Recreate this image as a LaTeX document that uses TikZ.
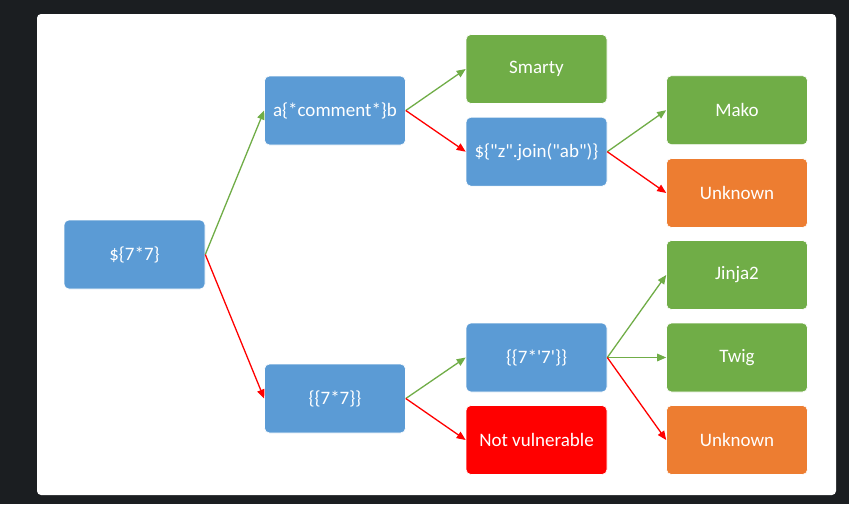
\documentclass[tikz,border=0pt]{standalone}
\usepackage{fontspec}
\setmainfont{Carlito}[Ligatures=TeXOff]
\usetikzlibrary{arrows.meta}
\definecolor{pagebg}{RGB}{27,30,33}
\definecolor{boxblue}{RGB}{91,155,213}
\definecolor{boxgreen}{RGB}{112,173,71}
\definecolor{boxorange}{RGB}{237,125,49}
\definecolor{boxred}{RGB}{255,0,0}
\begin{document}
\begin{tikzpicture}[x=1pt,y=-1pt,
  box/.style={rounded corners=5pt, minimum width=141pt, minimum height=69pt,
    draw=white, line width=0.6pt, text=white, inner sep=0pt,
    font=\fontsize{19}{23}\selectfont},
  test/.style={box, fill=boxblue},
  hit/.style={box, fill=boxgreen},
  unsure/.style={box, fill=boxorange},
  miss/.style={box, fill=boxred},
  yes/.style={draw=boxgreen, line width=1.3pt, -{Triangle[length=9pt,width=7.5pt]}},
  no/.style={draw=boxred, line width=1.3pt, -{Triangle[length=9pt,width=7.5pt]}}
]
\useasboundingbox (0,0) rectangle (849,504);
\fill[pagebg] (0,0) rectangle (849,504);
\fill[white, rounded corners=4pt] (37,14) rectangle (836,495);

% payload tests
\node[test] (root) at (134.5,254.5) {\$\{7*7\}};
\node[test] (cmt)  at (335,110.5) {a\{*comment*\}b};
\node[test] (dbl)  at (335,398.5) {\{\{7*7\}\}};
\node[test] (join) at (536.5,151.7) {\$\{"z".join("ab")\}};
\node[test] (q7)   at (536.5,357.5) {\{\{7*'7'\}\}};

% outcomes
\node[hit]    (smarty) at (536.5,69)   {Smarty};
\node[miss]   (notv)   at (536.5,440)  {Not vulnerable};
\node[hit]    (mako)   at (737,110.2)  {Mako};
\node[unsure] (unk1)   at (737,193)    {Unknown};
\node[hit]    (jinja)  at (737,275)    {Jinja2};
\node[hit]    (twig)   at (737,357.5)  {Twig};
\node[unsure] (unk2)   at (737,440)    {Unknown};

% decision edges
\draw[yes] (root.east) -- (cmt.west);
\draw[no]  (root.east) -- (dbl.west);
\draw[yes] (cmt.east)  -- (smarty.west);
\draw[no]  (cmt.east)  -- (join.west);
\draw[yes] (join.east) -- (mako.west);
\draw[no]  (join.east) -- (unk1.west);
\draw[yes] (dbl.east)  -- (q7.west);
\draw[no]  (dbl.east)  -- (notv.west);
\draw[yes] (q7.east)   -- (jinja.west);
\draw[yes] (q7.east)   -- (twig.west);
\draw[no]  (q7.east)   -- (unk2.west);
\end{tikzpicture}
\end{document}
